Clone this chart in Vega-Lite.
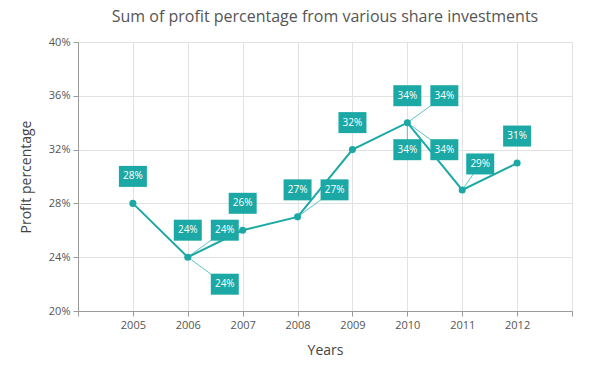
{
  "$schema": "https://vega.github.io/schema/vega-lite/v6.json",
  "width": 494,
  "height": 269,
  "autosize": {"type": "none"},
  "padding": {"left": 78, "top": 42, "right": 28, "bottom": 65},
  "title": {
    "text": "Sum of profit percentage from various share investments",
    "fontSize": 16,
    "font": "Open Sans",
    "fontWeight": "normal",
    "color": "#555555",
    "anchor": "middle",
    "offset": 11
  },
  "config": {
    "view": {"stroke": null},
    "font": "Open Sans",
    "axis": {
      "domainColor": "#9a9a9a",
      "tickColor": "#9a9a9a",
      "gridColor": "#e2e2e2",
      "labelColor": "#555555",
      "labelFontSize": 11,
      "labelFont": "Open Sans",
      "titleFont": "Open Sans",
      "titleFontSize": 14,
      "titleFontWeight": "normal",
      "titleColor": "#444444",
      "tickSize": 5,
      "labelPadding": 3
    }
  },
  "datasets": {
    "points": [
      {"year": 2005, "value": 28},
      {"year": 2006, "value": 24},
      {"year": 2007, "value": 26},
      {"year": 2008, "value": 27},
      {"year": 2009, "value": 32},
      {"year": 2010, "value": 34},
      {"year": 2011, "value": 29},
      {"year": 2012, "value": 31}
    ],
    "labels": [
      {"year": 2005, "value": 28, "label": "28%", "slot": "top"},
      {"year": 2006, "value": 24, "label": "24%", "slot": "top"},
      {"year": 2006, "value": 24, "label": "24%", "slot": "topright"},
      {"year": 2006, "value": 24, "label": "24%", "slot": "bottomright"},
      {"year": 2007, "value": 26, "label": "26%", "slot": "top"},
      {"year": 2008, "value": 27, "label": "27%", "slot": "top"},
      {"year": 2008, "value": 27, "label": "27%", "slot": "topright"},
      {"year": 2009, "value": 32, "label": "32%", "slot": "top"},
      {"year": 2010, "value": 34, "label": "34%", "slot": "top"},
      {"year": 2010, "value": 34, "label": "34%", "slot": "topright"},
      {"year": 2010, "value": 34, "label": "34%", "slot": "bottom"},
      {"year": 2010, "value": 34, "label": "34%", "slot": "bottomright"},
      {"year": 2011, "value": 29, "label": "29%", "slot": "nearright"},
      {"year": 2012, "value": 31, "label": "31%", "slot": "top"}
    ]
  },
  "encoding": {
    "x": {
      "field": "year",
      "type": "quantitative",
      "scale": {"domain": [2004, 2013], "nice": false, "zero": false},
      "axis": {
        "values": [2004, 2005, 2006, 2007, 2008, 2009, 2010, 2011, 2012, 2013],
        "format": "d",
        "labelExpr": "datum.value == 2004 || datum.value == 2013 ? '' : datum.label",
        "title": "Years",
        "titlePadding": 13
      }
    },
    "y": {
      "field": "value",
      "type": "quantitative",
      "scale": {"domain": [20, 40], "nice": false, "zero": false},
      "axis": {
        "values": [20, 24, 28, 32, 36, 40],
        "labelExpr": "datum.value + '%'",
        "title": "Profit percentage",
        "titlePadding": 15
      }
    }
  },
  "layer": [
    {
      "data": {"name": "labels"},
      "transform": [{"filter": "datum.slot == 'topright'"}],
      "mark": {"type": "rule", "color": "#5cc3c0", "strokeWidth": 1, "x2Offset": 37, "y2Offset": -27},
      "encoding": {"x2": {"field": "year"}, "y2": {"field": "value"}}
    },
    {
      "data": {"name": "labels"},
      "transform": [{"filter": "datum.slot == 'bottomright'"}],
      "mark": {"type": "rule", "color": "#5cc3c0", "strokeWidth": 1, "x2Offset": 37, "y2Offset": 27},
      "encoding": {"x2": {"field": "year"}, "y2": {"field": "value"}}
    },
    {
      "data": {"name": "labels"},
      "transform": [{"filter": "datum.slot == 'bottom'"}],
      "mark": {"type": "rule", "color": "#5cc3c0", "strokeWidth": 1, "x2Offset": 0, "y2Offset": 27},
      "encoding": {"x2": {"field": "year"}, "y2": {"field": "value"}}
    },
    {
      "data": {"name": "labels"},
      "transform": [{"filter": "datum.slot == 'nearright'"}],
      "mark": {"type": "rule", "color": "#5cc3c0", "strokeWidth": 1, "x2Offset": 18, "y2Offset": -26},
      "encoding": {"x2": {"field": "year"}, "y2": {"field": "value"}}
    },
    {
      "data": {"name": "points"},
      "mark": {"type": "line", "color": "#1ca9a6", "strokeWidth": 2}
    },
    {
      "data": {"name": "points"},
      "mark": {"type": "point", "filled": true, "opacity": 1, "color": "#1ca9a6", "size": 50}
    },
    {
      "data": {"name": "labels"},
      "transform": [{"filter": "datum.slot == 'top'"}],
      "layer": [
        {"mark": {"type": "point", "shape": "M-1,-0.75H1V0.75H-1Z", "size": 784, "filled": true, "opacity": 1, "color": "#1ca9a6", "xOffset": 0, "yOffset": -27}},
        {"mark": {"type": "text", "color": "white", "fontSize": 10, "font": "Open Sans", "align": "center", "baseline": "middle", "dx": 0, "dy": -27}, "encoding": {"text": {"field": "label", "type": "nominal"}}}
      ]
    },
    {
      "data": {"name": "labels"},
      "transform": [{"filter": "datum.slot == 'topright'"}],
      "layer": [
        {"mark": {"type": "point", "shape": "M-1,-0.75H1V0.75H-1Z", "size": 784, "filled": true, "opacity": 1, "color": "#1ca9a6", "xOffset": 37, "yOffset": -27}},
        {"mark": {"type": "text", "color": "white", "fontSize": 10, "font": "Open Sans", "align": "center", "baseline": "middle", "dx": 37, "dy": -27}, "encoding": {"text": {"field": "label", "type": "nominal"}}}
      ]
    },
    {
      "data": {"name": "labels"},
      "transform": [{"filter": "datum.slot == 'bottomright'"}],
      "layer": [
        {"mark": {"type": "point", "shape": "M-1,-0.75H1V0.75H-1Z", "size": 784, "filled": true, "opacity": 1, "color": "#1ca9a6", "xOffset": 37, "yOffset": 27}},
        {"mark": {"type": "text", "color": "white", "fontSize": 10, "font": "Open Sans", "align": "center", "baseline": "middle", "dx": 37, "dy": 27}, "encoding": {"text": {"field": "label", "type": "nominal"}}}
      ]
    },
    {
      "data": {"name": "labels"},
      "transform": [{"filter": "datum.slot == 'bottom'"}],
      "layer": [
        {"mark": {"type": "point", "shape": "M-1,-0.75H1V0.75H-1Z", "size": 784, "filled": true, "opacity": 1, "color": "#1ca9a6", "xOffset": 0, "yOffset": 27}},
        {"mark": {"type": "text", "color": "white", "fontSize": 10, "font": "Open Sans", "align": "center", "baseline": "middle", "dx": 0, "dy": 27}, "encoding": {"text": {"field": "label", "type": "nominal"}}}
      ]
    },
    {
      "data": {"name": "labels"},
      "transform": [{"filter": "datum.slot == 'nearright'"}],
      "layer": [
        {"mark": {"type": "point", "shape": "M-1,-0.75H1V0.75H-1Z", "size": 784, "filled": true, "opacity": 1, "color": "#1ca9a6", "xOffset": 18, "yOffset": -26}},
        {"mark": {"type": "text", "color": "white", "fontSize": 10, "font": "Open Sans", "align": "center", "baseline": "middle", "dx": 18, "dy": -26}, "encoding": {"text": {"field": "label", "type": "nominal"}}}
      ]
    }
  ]
}
